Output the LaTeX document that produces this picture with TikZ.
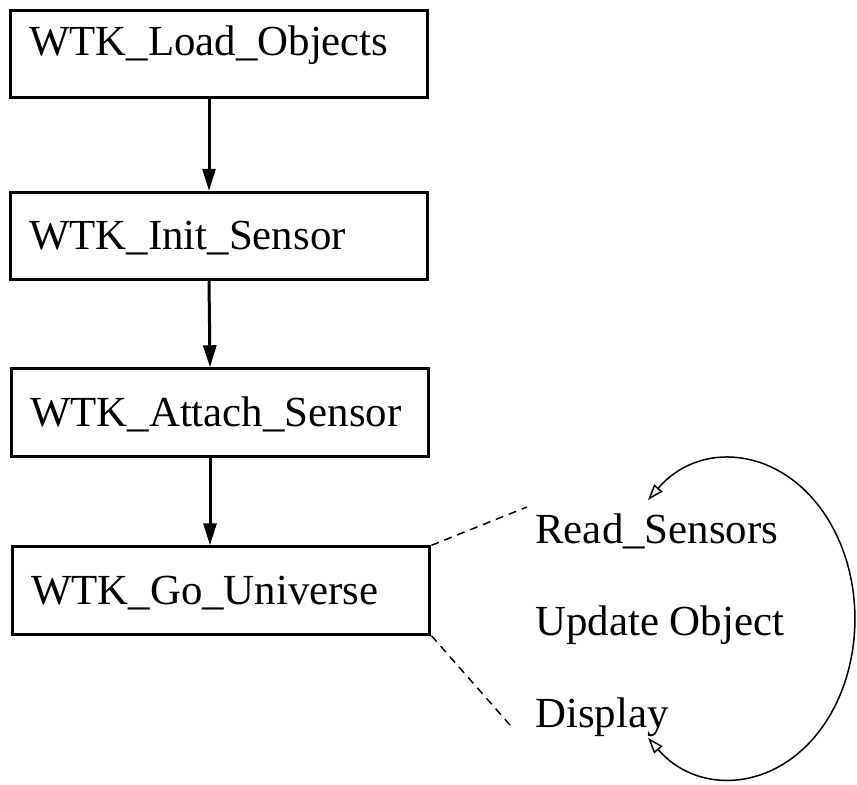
\documentclass[tikz,border=0pt]{standalone}
\usepackage{fontspec}
\setmainfont{Liberation Serif}
\usetikzlibrary{arrows.meta}

\tikzset{
  apibox/.style={draw, rectangle, line width=1.7pt, inner xsep=0.38cm, inner ysep=0pt,
    text width=7.6cm, align=left, minimum height=1.75cm, text height=1.85em, text depth=0.26em},
  flow/.style={line width=1.7pt, -{Triangle[length=0.44cm,width=0.26cm]}},
  zoomline/.style={line width=0.85pt, dash pattern=on 4.5pt off 3.4pt},
  loopline/.style={line width=0.85pt,
    {Triangle[open,length=0.32cm,width=0.22cm]}-{Triangle[open,length=0.32cm,width=0.22cm]}},
  steptext/.style={anchor=base west, inner sep=0pt},
}

\begin{document}
\begin{tikzpicture}[x=0.02cm,y=-0.02cm,font=\fontsize{24.4}{29}\selectfont]

\useasboundingbox (0,0) rectangle (857,784);

% call sequence
\node[apibox, text height=0.7em, text depth=0.56em] (load) at (219,54) {WTK\_Load\_Objects};
\node[apibox] (init) at (219,236) {WTK\_Init\_Sensor};
\node[apibox] (attach) at (220,412.5) {WTK\_Attach\_Sensor};
\node[apibox] (go) at (221,590.5) {WTK\_Go\_Universe};

\draw[flow] ([xshift=-0.2cm]load.south) -- ([xshift=-0.2cm]init.north);
\draw[flow] ([xshift=-0.2cm]init.south) -- ([xshift=-0.2cm]attach.north);
\draw[flow] ([xshift=-0.2cm]attach.south) -- ([xshift=-0.22cm]go.north);

% simulation loop
\node[steptext] (read) at (535,543) {Read\_Sensors};
\node[steptext] (update) at (535,635) {Update Object};
\node[steptext] (display) at (535,727) {Display};

\coordinate (zoomtop) at (527,507);
\coordinate (zoombot) at (510,725);
\draw[zoomline] (go.north east) -- (zoomtop);
\draw[zoomline] (go.south east) -- (zoombot);

\coordinate (loopin) at (648,500);
\draw[loopline] (loopin) arc[start angle=132, end angle=-132, x radius=2.48cm, y radius=3.2cm];

\end{tikzpicture}
\end{document}
